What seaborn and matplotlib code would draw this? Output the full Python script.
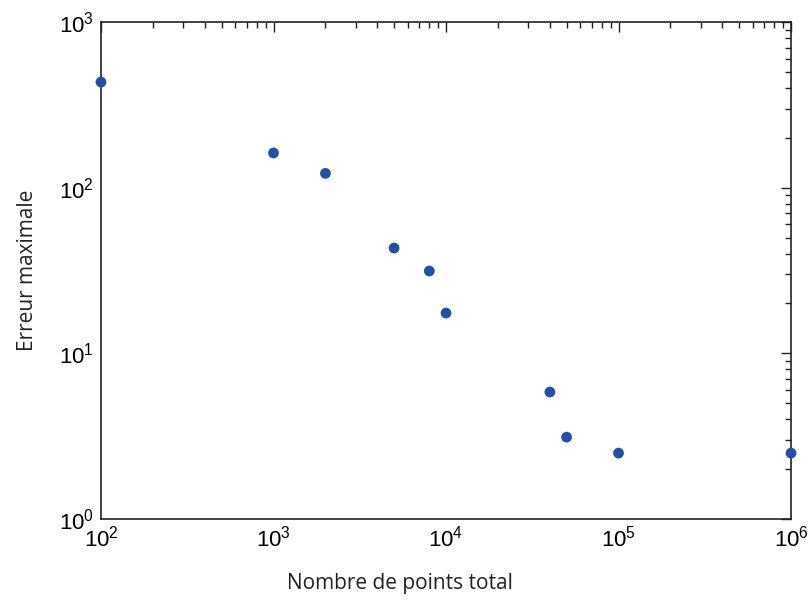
import numpy as np
import pandas as pd
import seaborn as sns
import matplotlib
matplotlib.use("Agg")
import matplotlib.pyplot as plt
import matplotlib.ticker as ticker

# data
nb_points = [100, 1000, 2000, 5000, 8000, 10000, 40000, 50000, 100000, 1000000]
erreur_max = [434, 162, 122, 43.2, 31.4, 17.5, 5.84, 3.12, 2.50, 2.50]

df = pd.DataFrame({"n": nb_points, "err": erreur_max})

sns.set_style("white")
plt.rcParams["font.family"] = ["Liberation Sans", "DejaVu Sans"]
plt.rcParams["mathtext.fontset"] = "custom"
plt.rcParams["mathtext.rm"] = "Liberation Sans"
plt.rcParams["mathtext.it"] = "Liberation Sans"

fig = plt.figure(figsize=(8.08, 6.01), dpi=100)
ax = fig.add_axes([0.125, 0.1364, 0.854, 0.827])

sns.scatterplot(data=df, x="n", y="err", ax=ax, color="#2150a8",
                s=60, edgecolor="none", zorder=3, clip_on=False)

ax.set_xscale("log")
ax.set_yscale("log")
ax.set_xlim(1e2, 1e6)
ax.set_ylim(1e0, 1e3)

def pow10(v, pos):
    return r"$\mathregular{10^{%d}}$" % int(round(np.log10(v)))

for axis in (ax.xaxis, ax.yaxis):
    axis.set_major_locator(ticker.LogLocator(base=10, numticks=10))
    axis.set_minor_locator(ticker.LogLocator(base=10, subs=np.arange(2, 10), numticks=20))
    axis.set_major_formatter(ticker.FuncFormatter(pow10))
    axis.set_minor_formatter(ticker.NullFormatter())

ax.tick_params(which="both", direction="in", top=True, right=True,
               color="#222222", width=1)
ax.tick_params(which="major", length=7, labelsize=16, labelcolor="black", pad=5)
ax.tick_params(which="minor", length=4)
for sp in ax.spines.values():
    sp.set_color("#222222")
    sp.set_linewidth(1.2)

ax.set_xlabel("Nombre de points total", fontsize=15, family="Open Sans",
              color="#222222")
ax.set_ylabel("Erreur maximale", fontsize=15, family="Open Sans",
              color="#222222")
ax.xaxis.set_label_coords(0.433, -0.108)
ax.yaxis.set_label_coords(-0.092, 0.5)

fig.savefig("out.png", dpi=100)
